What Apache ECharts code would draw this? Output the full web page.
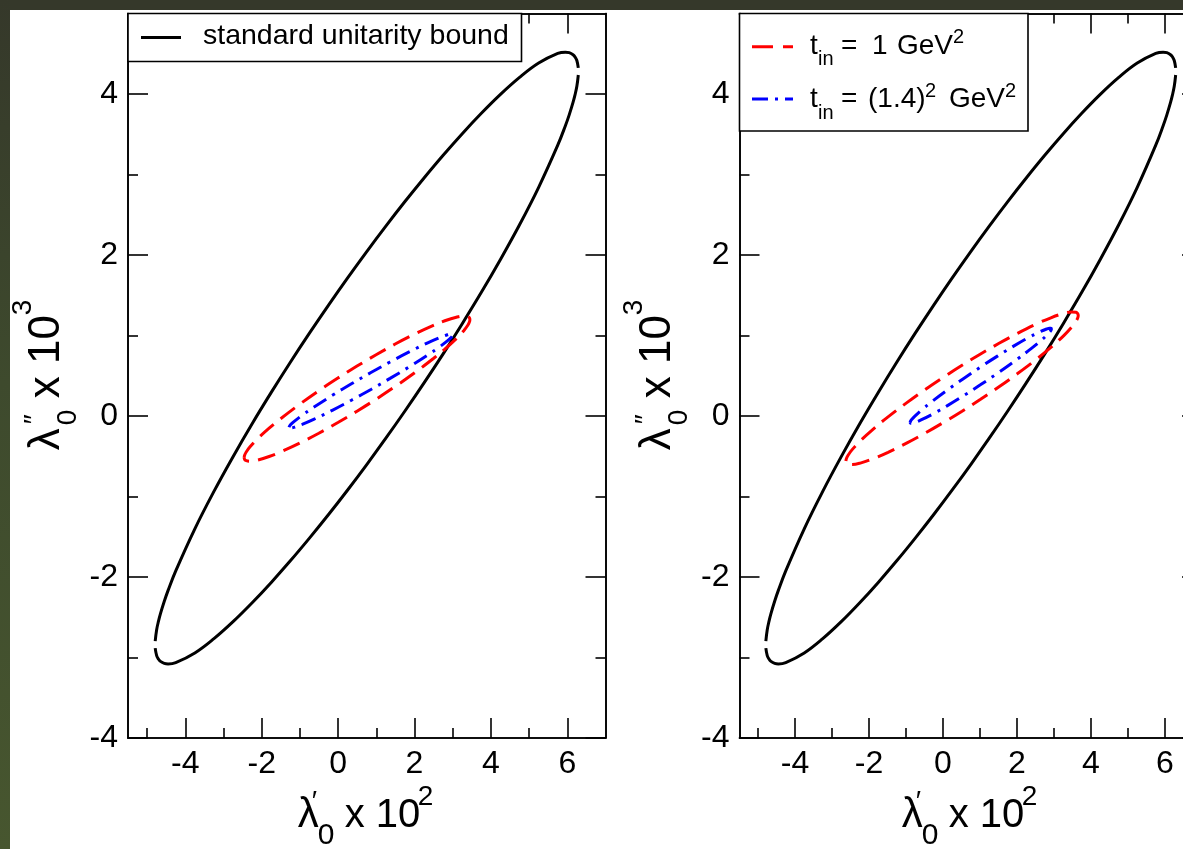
<!DOCTYPE html>
<html>
<head>
<meta charset="utf-8">
<script src="https://cdn.jsdelivr.net/npm/echarts@6/dist/echarts.min.js"></script>
<style>
  html, body { margin: 0; padding: 0; background: #fff; }
  #c { width: 1183px; height: 849px; }
</style>
</head>
<body>
<div id="c"></div>
<script>
// Contours in the (λ'0 × 10^2, λ''0 × 10^3) plane.
// Each contour is stored as one x list plus its upper and lower branch.

// standard unitarity bound (same contour in both panels)
const blackX = [-4.788, -4.75, -4.70, -4.65, -4.55, -4.45, -4.25, -3.75, -3.25, -2.75, -2.25, -1.75, -1.25, -0.75, -0.25, 0.25, 0.75, 1.25, 1.75, 2.25, 2.75, 3.25, 3.75, 4.25, 4.75, 5.25, 5.75, 5.95, 6.05, 6.15, 6.20, 6.25, 6.288];
const blackUpper = [-2.796, -2.654, -2.545, -2.455, -2.301, -2.166, -1.924, -1.401, -0.936, -0.505, -0.096, 0.293, 0.668, 1.029, 1.378, 1.716, 2.043, 2.359, 2.664, 2.957, 3.239, 3.507, 3.760, 3.995, 4.206, 4.384, 4.504, 4.520, 4.513, 4.488, 4.462, 4.416, 4.324];
const blackLower = [-2.884, -2.976, -3.022, -3.048, -3.073, -3.080, -3.064, -2.944, -2.766, -2.555, -2.320, -2.067, -1.799, -1.517, -1.224, -0.919, -0.603, -0.276, 0.062, 0.411, 0.772, 1.147, 1.536, 1.945, 2.376, 2.841, 3.364, 3.606, 3.741, 3.895, 3.985, 4.095, 4.236];

// left panel, t_in = 1 GeV^2
const redLeftX = [-2.46, -2.445, -2.405, -2.305, -2.105, -1.805, -1.505, -1.005, -0.505, -0.005, 0.495, 0.995, 1.495, 1.995, 2.495, 2.795, 3.095, 3.295, 3.395, 3.435, 3.45];
const redLeftUpper = [-0.517, -0.484, -0.447, -0.383, -0.281, -0.151, -0.034, 0.146, 0.314, 0.471, 0.62, 0.761, 0.894, 1.016, 1.126, 1.183, 1.227, 1.242, 1.235, 1.221, 1.197];
const redLeftLower = [-0.517, -0.541, -0.555, -0.562, -0.547, -0.503, -0.446, -0.336, -0.214, -0.081, 0.06, 0.209, 0.367, 0.534, 0.714, 0.831, 0.961, 1.063, 1.127, 1.164, 1.197];

// left panel, t_in = (1.4)^2 GeV^2
const blueLeftX = [-1.285, -1.27, -1.23, -1.14, -0.94, -0.64, -0.14, 0.36, 0.86, 1.36, 1.86, 2.36, 2.66, 2.86, 2.95, 2.99, 3.005];
const blueLeftUpper = [-0.140, -0.124, -0.101, -0.063, 0.010, 0.108, 0.260, 0.403, 0.54, 0.671, 0.796, 0.912, 0.974, 1.009, 1.019, 1.018, 1.01];
const blueLeftLower = [-0.140, -0.148, -0.149, -0.139, -0.104, -0.042, 0.074, 0.199, 0.33, 0.467, 0.610, 0.762, 0.860, 0.933, 0.971, 0.994, 1.01];

// right panel, t_in = 1 GeV^2
const redRightX = [-2.625, -2.61, -2.565, -2.455, -2.235, -1.885, -1.485, -0.985, -0.485, 0.015, 0.515, 1.015, 1.515, 2.015, 2.515, 2.915, 3.265, 3.485, 3.595, 3.64, 3.655];
const redRightUpper = [-0.559, -0.527, -0.487, -0.418, -0.309, -0.162, -0.011, 0.163, 0.327, 0.482, 0.63, 0.770, 0.903, 1.027, 1.141, 1.220, 1.275, 1.293, 1.288, 1.273, 1.249];
const redRightLower = [-0.559, -0.583, -0.598, -0.603, -0.585, -0.530, -0.451, -0.337, -0.213, -0.080, 0.06, 0.208, 0.363, 0.527, 0.701, 0.852, 0.999, 1.108, 1.177, 1.217, 1.249];

// right panel, t_in = (1.4)^2 GeV^2
const blueRightX = [-0.89, -0.875, -0.84, -0.76, -0.58, -0.28, 0.12, 0.57, 1.02, 1.47, 1.92, 2.32, 2.62, 2.80, 2.88, 2.915, 2.93];
const blueRightUpper = [-0.081, -0.062, -0.040, -0.001, 0.074, 0.186, 0.323, 0.470, 0.61, 0.744, 0.871, 0.976, 1.046, 1.081, 1.090, 1.090, 1.081];
const blueRightLower = [-0.081, -0.090, -0.090, -0.081, -0.046, 0.024, 0.129, 0.256, 0.39, 0.530, 0.677, 0.815, 0.926, 1.001, 1.040, 1.062, 1.081];

// axis ranges and tick marks
const xRange = [-5.5, 7];
const yRange = [-4, 5];
const xMajorTicks = [-4, -2, 0, 2, 4, 6];
const xMinorTicks = [-5, -3, -1, 1, 3, 5];
const yMajorTicks = [-4, -2, 0, 2, 4];
const yMinorTicks = [-3, -1, 1, 3];

// legend texts
const blackName = 'standard unitarity bound';

const FONT = '"Liberation Sans", Arial, Helvetica, sans-serif';
const RED = '#ff0000', BLUE = '#0000ff', BLACK = '#000000';
const RED_DASH = [18, 9];
const BLUE_DASH = [15, 7, 3, 7];
const CURVE_W = 3;

const panels = [
  { left: 128, top: 13.5, width: 477.5, height: 724.5 },
  { left: 739.5, top: 13.5, width: 462.5, height: 724.5 }
];

function branch(xs, ys) { return xs.map((x, i) => [x, ys[i]]); }
function loop(xs, up, lo) {
  const a = branch(xs, up);
  const b = branch(xs, lo).reverse().slice(1);
  return a.concat(b);
}

function makeAxis(g, pos, range, vals, len, withLabels) {
  return {
    type: 'value', gridIndex: g, position: pos, min: range[0], max: range[1],
    axisLine: { show: true, onZero: false, lineStyle: { color: BLACK, width: 1.6 } },
    axisTick: { show: true, inside: true, length: len, customValues: vals, lineStyle: { color: BLACK, width: 1.6 } },
    axisLabel: { show: withLabels, customValues: vals, margin: 10, fontSize: 32, fontFamily: FONT, color: BLACK },
    splitLine: { show: false },
    minorTick: { show: false }
  };
}

const xAxes = [], yAxes = [];
panels.forEach((p, g) => {
  xAxes.push(makeAxis(g, 'bottom', xRange, xMajorTicks, 20, true));
  xAxes.push(makeAxis(g, 'bottom', xRange, xMinorTicks, 10, false));
  xAxes.push(makeAxis(g, 'top', xRange, xMajorTicks, 20, false));
  xAxes.push(makeAxis(g, 'top', xRange, xMinorTicks, 10, false));
  yAxes.push(makeAxis(g, 'left', yRange, yMajorTicks, 20, true));
  yAxes.push(makeAxis(g, 'left', yRange, yMinorTicks, 10, false));
  yAxes.push(makeAxis(g, 'right', yRange, yMajorTicks, 20, false));
  yAxes.push(makeAxis(g, 'right', yRange, yMinorTicks, 10, false));
});

function curve(name, data, g, color, dash, z) {
  return {
    name, type: 'line', xAxisIndex: 4 * g, yAxisIndex: 4 * g, data,
    symbol: 'none', showSymbol: false, smooth: 0.4, silent: true, clip: true, z,
    lineStyle: { color, width: CURVE_W, type: dash }
  };
}

const series = [];
[0, 1].forEach(g => {
  series.push(curve(blackName, branch(blackX, blackUpper), g, BLACK, 'solid', 2));
  series.push(curve(blackName, branch(blackX, blackLower), g, BLACK, 'solid', 2));
});
series.push(curve('t_in = 1 GeV2', loop(redLeftX, redLeftUpper, redLeftLower), 0, RED, RED_DASH, 3));
series.push(curve('t_in = (1.4)2 GeV2', loop(blueLeftX, blueLeftUpper, blueLeftLower), 0, BLUE, BLUE_DASH, 4));
series.push(curve('t_in = 1 GeV2', loop(redRightX, redRightUpper, redRightLower), 1, RED, RED_DASH, 3));
series.push(curve('t_in = (1.4)2 GeV2', loop(blueRightX, blueRightUpper, blueRightLower), 1, BLUE, BLUE_DASH, 4));

// text placed by its baseline
function txt(str, x, baseline, size) {
  return {
    type: 'text', x: x, y: baseline - 0.35 * size, z: 30,
    style: { text: str, fontSize: size, fontFamily: FONT, fill: BLACK, textAlign: 'left', verticalAlign: 'middle' }
  };
}

function xTitle(p) {
  const cx = p.left + p.width / 2;
  return {
    type: 'group', x: cx, y: 0, z: 30, children: [
      txt('λ', -69, 830, 42),
      txt('′', -55, 812, 28),
      txt('0', -49, 846, 30),
      txt('x 10', -22, 830, 40),
      txt('2', 51, 807, 28)
    ]
  };
}

function yTitle(p) {
  const cy = p.top + p.height / 2;
  return {
    type: 'group', x: p.left - 66, y: cy + 74.5, rotation: Math.PI / 2, z: 30, children: [
      txt('λ', 0, 0, 44),
      txt('″', 26, -17, 28),
      txt('0', 25, 16, 28),
      txt('x 10', 52, 0, 44),
      txt('3', 135, -29, 28)
    ]
  };
}

const graphics = [
  { type: 'rect', z: 40, shape: { x: 0, y: 0, width: 1183, height: 10 }, style: { fill: '#35382a' } },
  {
    type: 'rect', z: 40, shape: { x: 0, y: 0, width: 10, height: 849 },
    style: {
      fill: new echarts.graphic.LinearGradient(0, 0, 0, 1, [
        { offset: 0, color: '#35382a' }, { offset: 0.45, color: '#3e4a2d' }, { offset: 1, color: '#47562f' }
      ])
    }
  },
  // legend, left panel
  { type: 'rect', z: 20, shape: { x: 128, y: 13.5, width: 393.5, height: 48 }, style: { fill: '#fff', stroke: BLACK, lineWidth: 1.6 } },
  { type: 'line', z: 21, shape: { x1: 141, y1: 37.5, x2: 181, y2: 37.5 }, style: { stroke: BLACK, lineWidth: CURVE_W } },
  txt(blackName, 203, 46, 28.5),
  // legend, right panel
  { type: 'rect', z: 20, shape: { x: 739.5, y: 13.5, width: 288.5, height: 117.5 }, style: { fill: '#fff', stroke: BLACK, lineWidth: 1.6 } },
  { type: 'line', z: 21, shape: { x1: 752, y1: 46.7, x2: 793, y2: 46.7 }, style: { stroke: RED, lineWidth: CURVE_W, lineDash: [21, 10] } },
  { type: 'line', z: 21, shape: { x1: 752, y1: 99, x2: 793, y2: 99 }, style: { stroke: BLUE, lineWidth: CURVE_W, lineDash: [16, 7, 3, 7] } },
  txt('t', 810, 56, 28), txt('in', 818, 66, 20), txt('=', 841, 56, 28), txt('1', 872, 56, 28), txt('GeV', 897, 56, 28), txt('2', 953, 44, 20),
  txt('t', 810, 109.3, 28), txt('in', 818, 120, 20), txt('=', 841, 109.3, 28), txt('(1.4)', 868, 109.3, 28), txt('2', 925, 98, 20), txt('GeV', 949, 109.3, 28), txt('2', 1005, 98, 20),
  xTitle(panels[0]), xTitle(panels[1]),
  yTitle(panels[0]), yTitle(panels[1])
];

const chart = echarts.init(document.getElementById('c'), null, { renderer: 'canvas' });
chart.setOption({
  backgroundColor: '#ffffff',
  animation: false,
  grid: panels.map(p => Object.assign({ outerBoundsMode: 'none', containLabel: false }, p)),
  xAxis: xAxes,
  yAxis: yAxes,
  series: series,
  graphic: { elements: graphics }
});
</script>
</body>
</html>
